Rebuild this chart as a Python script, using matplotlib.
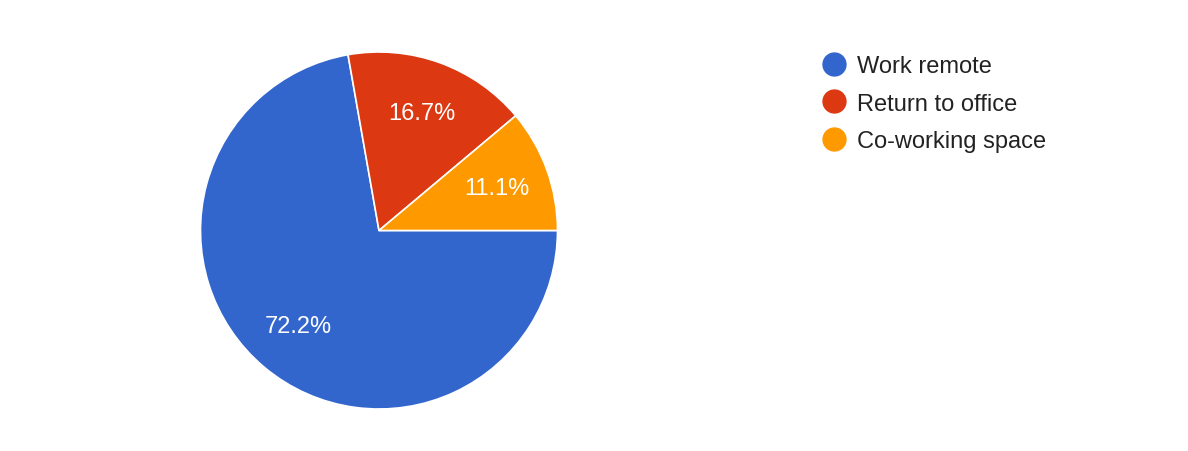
import matplotlib
matplotlib.use("Agg")
import matplotlib.pyplot as plt
from matplotlib.lines import Line2D

categories = ["Work remote", "Return to office", "Co-working space"]
counts = [13, 3, 2]
colors = ["#3366CC", "#DC3912", "#FF9900"]

plt.rcParams['font.family'] = ['Liberation Sans', 'DejaVu Sans']

W, H = 1188, 452
fig = plt.figure(figsize=(W / 100, H / 100), dpi=100)
cx, cy, r = 379, 231.5, 178.5
ax = fig.add_axes([(cx - r) / W, (H - cy - r) / H, 2 * r / W, 2 * r / H])

wedges, texts, autotexts = ax.pie(
    counts, colors=colors, startangle=0, counterclock=False,
    autopct='%1.1f%%', pctdistance=0.70,
    wedgeprops=dict(edgecolor='white', linewidth=1.2),
    textprops=dict(color='white', fontsize=17))
ax.set_xlim(-1, 1)
ax.set_ylim(-1, 1)
ax.set_aspect('equal')
ax.axis('off')

handles = [Line2D([0], [0], marker='o', linestyle='none', markersize=16.5,
                  markerfacecolor=c, markeredgecolor=c) for c in colors]
fig.legend(handles, categories, loc='upper left',
           bbox_to_anchor=(822.5 / W, 1 - 56 / H), frameon=False,
           borderpad=0, borderaxespad=0, handlelength=1.0, handletextpad=0.45,
           labelspacing=0.66, fontsize=17, labelcolor='#222222')

fig.savefig("out.png", dpi=100)
